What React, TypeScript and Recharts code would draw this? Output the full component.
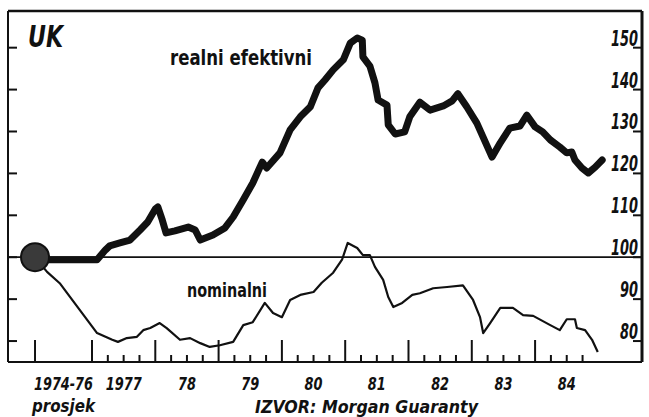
import React from 'react';
import { LineChart, Line, XAxis, YAxis, ReferenceLine, ReferenceDot } from 'recharts';

// 1974-76 average = 100, drawn as a point just left of 1977
const baseT = 1976.1;
const baseLabel = ['1974-76', 'prosjek'];

const yearStarts = [1977, 1978, 1979, 1980, 1981, 1982, 1983, 1984];
const yearLabels = ['1977', '78', '79', '80', '81', '82', '83', '84'];
const valueTicks = [80, 90, 100, 110, 120, 130, 140, 150];

// realni efektivni tečaj
const realT = [
  1976.1, 1976.29, 1977.08, 1977.21, 1977.28, 1977.44, 1977.6, 1977.76, 1977.88, 1978.0,
  1978.04, 1978.11, 1978.17, 1978.31, 1978.52, 1978.63, 1978.71, 1978.91, 1979.1, 1979.23,
  1979.39, 1979.54, 1979.69, 1979.76, 1979.97, 1980.13, 1980.29, 1980.45, 1980.57, 1980.68,
  1980.81, 1980.97, 1981.08, 1981.19, 1981.27, 1981.28, 1981.39, 1981.47, 1981.52, 1981.66,
  1981.68, 1981.79, 1981.94, 1982.02, 1982.18, 1982.34, 1982.55, 1982.69, 1982.78, 1982.92,
  1983.08, 1983.32, 1983.45, 1983.6, 1983.76, 1983.87, 1984.0, 1984.12, 1984.24, 1984.39,
  1984.5, 1984.58, 1984.63, 1984.74, 1984.84, 1984.95, 1985.06,
];
const realV = [
  100, 99.4, 99.4, 101.7, 102.7, 103.4, 104.1, 106.5, 108.4, 111.5,
  112.0, 108.9, 105.8, 106.3, 107.2, 106.5, 104.1, 105.3, 107.0, 109.6,
  113.7, 117.7, 122.7, 121.3, 124.9, 130.4, 133.5, 135.9, 140.4, 142.3,
  144.7, 147.1, 151.1, 152.3, 151.8, 147.8, 145.6, 141.6, 137.5, 136.3,
  131.6, 129.4, 129.9, 133.5, 137.0, 135.1, 136.1, 137.3, 139.0, 135.9,
  132.0, 123.9, 127.3, 130.8, 131.3, 133.9, 131.1, 129.9, 128.0, 126.3,
  124.9, 125.1, 123.2, 121.3, 120.1, 121.5, 123.2,
];

// nominalni efektivni tečaj
const nomT = [
  1976.1, 1976.29, 1976.49, 1977.08, 1977.32, 1977.41, 1977.55, 1977.71, 1977.81, 1977.92,
  1978.07, 1978.18, 1978.39, 1978.55, 1978.71, 1978.86, 1979.02, 1979.23, 1979.39, 1979.54,
  1979.73, 1979.86, 1980.0, 1980.13, 1980.29, 1980.5, 1980.63, 1980.81, 1980.95, 1981.04,
  1981.19, 1981.28, 1981.39, 1981.47, 1981.6, 1981.68, 1981.76, 1981.9, 1982.06, 1982.18,
  1982.39, 1982.61, 1982.86, 1983.02, 1983.13, 1983.18, 1983.29, 1983.45, 1983.65, 1983.81,
  1983.97, 1984.24, 1984.39, 1984.5, 1984.63, 1984.66, 1984.79, 1984.9, 1984.99,
];
const nomV = [
  100, 96.5, 93.8, 81.9, 80.3, 79.8, 80.7, 81.0, 82.6, 83.1,
  84.3, 83.1, 80.3, 80.7, 79.5, 78.6, 79.0, 79.8, 83.8, 84.5,
  89.1, 86.7, 85.7, 89.8, 91.0, 91.7, 93.9, 96.3, 99.4, 103.4,
  102.2, 100.5, 100.5, 97.7, 94.6, 90.5, 88.1, 89.1, 91.0, 91.4,
  92.6, 92.9, 93.3, 89.8, 85.7, 81.9, 84.3, 87.9, 87.9, 86.2,
  86.0, 83.8, 82.6, 85.2, 85.2, 83.1, 82.6, 80.3, 77.4,
];

const realData = realT.map((t, i) => ({ t, v: realV[i] }));
const nomData = nomT.map((t, i) => ({ t, v: nomV[i] }));

const xDomain = [1975.673, 1985.689];
const yDomain = [75, 158.75];

const font = "'DejaVu Sans Condensed', 'DejaVu Sans', sans-serif";
const ink = '#111';

// squeeze numbers to the narrow look of the original lettering
const numWidth = (s: string) => s.split('').reduce((w, c) => w + (c === '-' ? 5 : 9), 0);

// x ticks: period boundaries (tall), quarters (short), label at the middle of each period
const bounds = [baseT, ...yearStarts];
const ends = [...yearStarts, yearStarts[yearStarts.length - 1] + 1];
const quarters = yearStarts.flatMap((y) => [y + 0.25, y + 0.5, y + 0.75]);
const mids = bounds.map((b, i) => (b + ends[i]) / 2);
const periodLabels = [baseLabel, ...yearLabels.map((l) => [l])];
const xTicks = Array.from(new Set([...bounds, ...quarters, ...mids].map((v) => +v.toFixed(3)))).sort(
  (a, b) => a - b
);
const near = (a: number, b: number) => Math.abs(a - b) < 1e-6;

function XTick({ x, y, payload }: any) {
  const v = payload.value;
  const isBound = bounds.some((b) => near(b, v));
  const isQ = quarters.some((q) => near(q, v));
  const mi = mids.findIndex((m) => near(m, v));
  return (
    <g>
      {isBound && <line x1={x} x2={x} y1={y} y2={y - 22} stroke={ink} strokeWidth={2} />}
      {isQ && <line x1={x} x2={x} y1={y} y2={y - 7} stroke={ink} strokeWidth={2} />}
      {mi >= 0 &&
        periodLabels[mi].map((s, k) => (
          <text
            key={k}
            x={x}
            y={y + 28 + k * 22}
            textAnchor="middle"
            fontFamily={font}
            fontWeight="bold"
            fontStyle="italic"
            fontSize={18}
            textLength={k === 1 ? 63 : numWidth(s)}
            lengthAdjust="spacingAndGlyphs"
            fill={ink}
          >
            {s}
          </text>
        ))}
    </g>
  );
}

function RightTick({ x, y, payload }: any) {
  const s = String(payload.value);
  return (
    <g>
      <line x1={x - 9} x2={x} y1={y} y2={y} stroke={ink} strokeWidth={2} />
      <text
        x={x - 4}
        y={y - 2}
        textAnchor="end"
        fontFamily={font}
        fontWeight="bold"
        fontStyle="italic"
        fontSize={21}
        textLength={numWidth(s)}
        lengthAdjust="spacingAndGlyphs"
        fill={ink}
      >
        {s}
      </text>
    </g>
  );
}

function LeftTick({ x, y }: any) {
  return <line x1={x} x2={x + 9} y1={y} y2={y} stroke={ink} strokeWidth={2} />;
}

export default function App() {
  return (
    <div style={{ position: 'absolute', left: 0, top: 0, width: 649, height: 417, background: '#fff' }}>
      <LineChart width={649} height={417} margin={{ top: 10, right: 7, bottom: 54, left: 8 }}>
        <XAxis
          xAxisId="b"
          dataKey="t"
          type="number"
          domain={xDomain}
          allowDataOverflow
          ticks={xTicks}
          interval={0}
          height={1}
          tickSize={0}
          tickMargin={0}
          tick={<XTick />}
          tickLine={false}
          axisLine={{ stroke: ink, strokeWidth: 2 }}
        />
        <XAxis
          xAxisId="t"
          orientation="top"
          dataKey="t"
          type="number"
          domain={xDomain}
          allowDataOverflow
          height={1}
          tick={false}
          tickLine={false}
          axisLine={{ stroke: ink, strokeWidth: 2.5 }}
        />
        <YAxis
          yAxisId="r"
          orientation="right"
          type="number"
          domain={yDomain}
          allowDataOverflow
          ticks={valueTicks}
          interval={0}
          mirror
          width={1}
          tickSize={0}
          tickMargin={0}
          tick={<RightTick />}
          tickLine={false}
          axisLine={{ stroke: ink, strokeWidth: 3 }}
        />
        <YAxis
          yAxisId="l"
          orientation="left"
          type="number"
          domain={yDomain}
          allowDataOverflow
          ticks={valueTicks}
          interval={0}
          mirror
          width={1}
          tickSize={0}
          tickMargin={0}
          tick={<LeftTick />}
          tickLine={false}
          axisLine={{ stroke: ink, strokeWidth: 2 }}
        />
        <ReferenceLine xAxisId="b" yAxisId="r" y={100} stroke={ink} strokeWidth={1.8} />
        <Line
          xAxisId="t"
          yAxisId="l"
          data={nomData}
          dataKey="v"
          type="linear"
          stroke={ink}
          strokeWidth={2.2}
          strokeLinejoin="round"
          dot={false}
          activeDot={false}
          isAnimationActive={false}
        />
        <Line
          xAxisId="b"
          yAxisId="r"
          data={realData}
          dataKey="v"
          type="linear"
          stroke={ink}
          strokeWidth={7}
          strokeLinejoin="round"
          strokeLinecap="round"
          dot={false}
          activeDot={false}
          isAnimationActive={false}
        />
        <ReferenceDot xAxisId="b" yAxisId="r" x={baseT} y={100} r={14} fill="#3a3a3a" stroke={ink} strokeWidth={2} />
      </LineChart>
      <svg width={649} height={417} style={{ position: 'absolute', left: 0, top: 0, pointerEvents: 'none' }}>
        <text x={28} y={47} fontFamily={font} fontWeight="bold" fontStyle="italic" fontSize={30} textLength={35} lengthAdjust="spacingAndGlyphs" fill={ink}>
          UK
        </text>
        <text x={170} y={65} fontFamily={font} fontWeight="bold" fontSize={21} textLength={142} lengthAdjust="spacingAndGlyphs" fill={ink}>
          realni efektivni
        </text>
        <text x={187} y={297} fontFamily={font} fontWeight="bold" fontSize={19} textLength={80} lengthAdjust="spacingAndGlyphs" fill={ink}>
          nominalni
        </text>
        <text x={255} y={413} fontFamily={font} fontWeight="bold" fontStyle="italic" fontSize={17} textLength={223} lengthAdjust="spacingAndGlyphs" fill={ink}>
          IZVOR: Morgan Guaranty
        </text>
      </svg>
    </div>
  );
}
